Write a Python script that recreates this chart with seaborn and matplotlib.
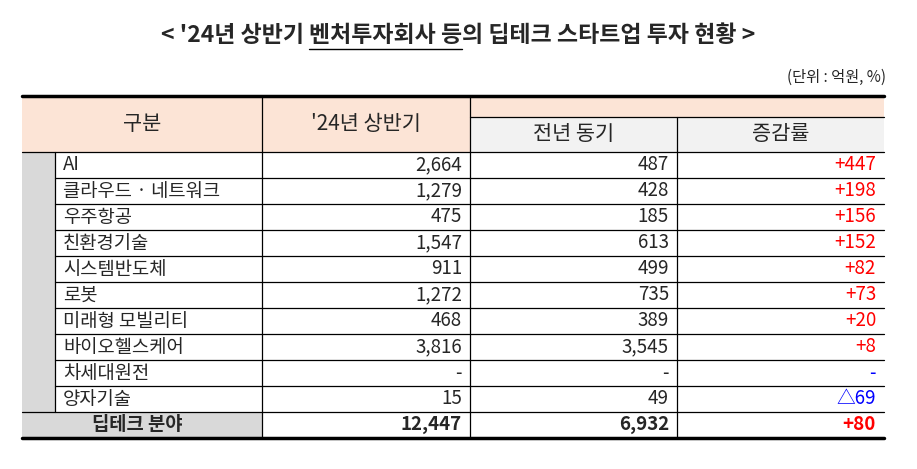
import matplotlib.pyplot as plt
import seaborn as sns
from matplotlib.patches import Rectangle

sns.set_theme(style='white')
plt.rcParams['font.family'] = ['Noto Sans CJK KR', 'DejaVu Sans']

# data
categories = ['AI', '클라우드 · 네트워크', '우주항공', '친환경기술', '시스템반도체', '로봇',
              '미래형 모빌리티', '바이오헬스케어', '차세대원전', '양자기술']
h1_2024 = ['2,664', '1,279', '475', '1,547', '911', '1,272', '468', '3,816', '-', '15']
h1_prev = ['487', '428', '185', '613', '499', '735', '389', '3,545', '-', '49']
change = ['+447', '+198', '+156', '+152', '+82', '+73', '+20', '+8', '-', '△69']
total_row = ['딥테크 분야', '12,447', '6,932', '+80']
title_parts = ["< '24년 상반기 ", "벤처투자회사 등", "의 딥테크 스타트업 투자 현황 >"]

fig = plt.figure(figsize=(9.17, 4.69), dpi=100)
ax = fig.add_axes([0, 0, 1, 1])
ax.set_xlim(0, 917)
ax.set_ylim(469, 0)
ax.axis('off')

xs = [22, 55, 262, 470, 677, 884]
top, hdr2, hdr_end = 96, 117, 152
row_h = 26
data_end = hdr_end + row_h * len(categories)
tot_end = data_end + 26

# title drawn in parts so the middle part can be underlined
fig.canvas.draw()
rend = fig.canvas.get_renderer()
tkw = dict(va='center', fontsize=16.5, fontweight='bold')
widths = []
for p in title_parts:
    t = ax.text(0, 0, p, **tkw)
    bb = t.get_window_extent(rend)
    widths.append(bb.width)
    t.remove()
x = 458 - sum(widths) / 2
for i, p in enumerate(title_parts):
    ax.text(x, 36, p, ha='left', **tkw)
    if i == 1:
        ax.plot([x, x + widths[i]], [49, 49], color='black', lw=1)
    x += widths[i]
ax.text(886, 77, '(단위 : 억원, %)', ha='right', va='center', fontsize=11)

# fills
ax.add_patch(Rectangle((xs[0], top), xs[5] - xs[0], hdr_end - top, color='#FCE4D6', lw=0))
ax.add_patch(Rectangle((xs[3], hdr2), xs[5] - xs[3], hdr_end - hdr2, color='#F2F2F2', lw=0))
ax.add_patch(Rectangle((xs[0], hdr_end), xs[1] - xs[0], tot_end - hdr_end, color='#D9D9D9', lw=0))
ax.add_patch(Rectangle((xs[0], data_end), xs[2] - xs[0], tot_end - data_end, color='#D9D9D9', lw=0))

lk = dict(color='black', lw=0.9)
ax.plot([xs[3], xs[5]], [hdr2, hdr2], **lk)
for xv in xs[2:4]:
    ax.plot([xv, xv], [top, tot_end], **lk)
ax.plot([xs[4], xs[4]], [hdr2, tot_end], **lk)
ax.plot([xs[0], xs[5]], [hdr_end, hdr_end], **lk)
for i in range(1, len(categories) + 1):
    y = hdr_end + i * row_h
    x0 = xs[0] if i == len(categories) else xs[1]
    ax.plot([x0, xs[5]], [y, y], **lk)
ax.plot([xs[1], xs[1]], [hdr_end, data_end], **lk)
ax.plot([xs[0], xs[5]], [top, top], color='black', lw=2.5)
ax.plot([xs[0], xs[5]], [tot_end, tot_end], color='black', lw=2.5)

hk = dict(ha='center', va='center', fontsize=15)
ax.text((xs[0] + xs[2]) / 2, 124, '구분', **hk)
ax.text((xs[2] + xs[3]) / 2, 124, "'24년 상반기", **hk)
ax.text((xs[3] + xs[4]) / 2, 134, '전년 동기', **hk)
ax.text((xs[4] + xs[5]) / 2, 134, '증감률', **hk)

fs = 13.5
for i, cat in enumerate(categories):
    y = hdr_end + (i + 0.5) * row_h
    ax.text(xs[1] + 8, y, cat, ha='left', va='center', fontsize=fs)
    ax.text(xs[3] - 8, y, h1_2024[i], ha='right', va='center', fontsize=fs)
    ax.text(xs[4] - 8, y, h1_prev[i], ha='right', va='center', fontsize=fs)
    c = '#FF0000' if change[i].startswith('+') else '#0000FF'
    ax.text(xs[5] - 8, y, change[i], ha='right', va='center', fontsize=fs, color=c)

y = data_end + 13
bk = dict(va='center', fontsize=fs, fontweight='bold')
ax.text((xs[0] + xs[2]) / 2 - 5, y, total_row[0], ha='center', **bk)
ax.text(xs[3] - 8, y, total_row[1], ha='right', **bk)
ax.text(xs[4] - 8, y, total_row[2], ha='right', **bk)
ax.text(xs[5] - 8, y, total_row[3], ha='right', color='#FF0000', **bk)

fig.savefig('out.png', dpi=100)
